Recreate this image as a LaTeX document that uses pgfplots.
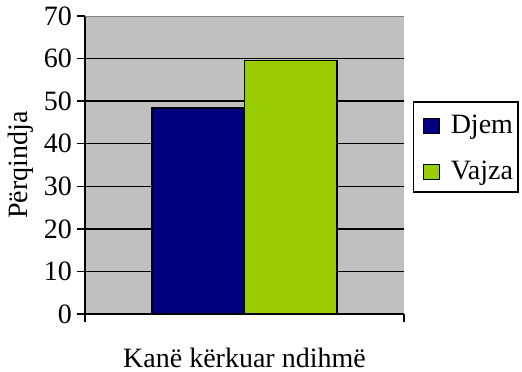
\documentclass[border=0pt]{standalone}
\usepackage{fontspec}
\setmainfont{Liberation Serif}
\usepackage{pgfplots}
\pgfplotsset{compat=1.18}
\definecolor{djem}{HTML}{000080}
\definecolor{vajza}{HTML}{99CC00}
\definecolor{plotbg}{HTML}{C0C0C0}
\begin{document}
\fontsize{28}{32}\selectfont
\begin{tikzpicture}
% picture frame, same proportions as the reference (axis sits at the origin)
\useasboundingbox (-85pt,-58pt) rectangle (437pt,314pt);
\begin{axis}[
    scale only axis,
    width=319pt, height=298pt,
    xmin=-1, xmax=1,
    ymin=0, ymax=70,
    axis x line*=bottom,
    axis y line*=left,
    axis line style={line width=1.3pt, -},
    axis background/.style={fill=plotbg},
    ytick={0,10,...,60},
    extra y ticks={70},
    extra y tick style={major grid style={color=gray, line width=1pt}},
    xtick={-1,1}, xticklabels={},
    tick align=outside,
    major tick length=8pt,
    tick style={line width=1.3pt, black},
    ymajorgrids=true,
    grid style={line width=1.3pt, black},
    /pgf/number format/assume math mode=true,
    ticklabel style={font=\fontsize{28}{32}\selectfont},
    yticklabel style={inner xsep=5pt},
    every axis y label/.style={at={(axis description cs:-0.1787,0.5)},
        rotate=90, anchor=base, font=\fontsize{28}{32}\selectfont},
    every axis x label/.style={at={(axis description cs:0.5,0)},
        anchor=base, yshift=-53pt, font=\fontsize{28}{32}\selectfont},
    ylabel={Përqindja},
    xlabel={Kanë kërkuar ndihmë},
    ybar=0pt,
    bar width=0.58,
    legend style={at={(1,0.5604)}, anchor=west, xshift=9pt,
        draw=black, line width=1.2pt, font=\fontsize{28}{32}\selectfont,
        inner xsep=3pt, inner ysep=12.5pt, row sep=26pt, column sep=8.5pt,
        cells={anchor=center},
        nodes={inner xsep=2pt, inner ysep=0pt, text height=19pt, text depth=0pt}},
    legend cell align=left,
    legend image code/.code={%
        \path (0pt,0pt) -- (0pt,0pt);
        \draw[#1, line width=1pt] (6.4pt,-9.5pt) rectangle (22.4pt,5.5pt);},
]
\addplot[fill=djem, draw=black, line width=1.5pt] coordinates {(0,48.4)};
\addplot[fill=vajza, draw=black, line width=1.5pt] coordinates {(0,59.5)};
\legend{Djem, Vajza}
\end{axis}
\end{tikzpicture}
\end{document}
